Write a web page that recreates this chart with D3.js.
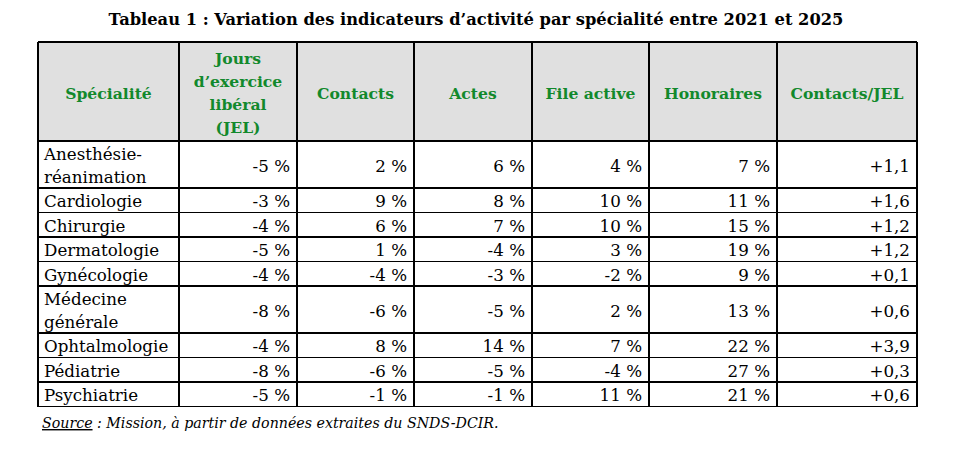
<!DOCTYPE html>
<html lang="fr">
<head>
<meta charset="utf-8">
<script src="https://cdn.jsdelivr.net/npm/d3@7"></script>
<style>
  html, body { margin: 0; padding: 0; background: #fff; }
  svg { display: block; font-family: "DejaVu Serif", serif; }
</style>
</head>
<body>
<div id="chart"></div>
<script>
// Data (variation 2021-2025)
const title = "Tableau 1 : Variation des indicateurs d\u2019activit\u00e9 par sp\u00e9cialit\u00e9 entre 2021 et 2025";
const headers = ["Sp\u00e9cialit\u00e9", "Jours\nd\u2019exercice\nlib\u00e9ral\n(JEL)", "Contacts", "Actes", "File active", "Honoraires", "Contacts/JEL"];
const specialites = ["Anesth\u00e9sie-\nr\u00e9animation", "Cardiologie", "Chirurgie", "Dermatologie", "Gyn\u00e9cologie", "M\u00e9decine\ng\u00e9n\u00e9rale", "Ophtalmologie", "P\u00e9diatrie", "Psychiatrie"];
const jel        = [-5, -3, -4, -5, -4, -8, -4, -8, -5];
const contacts   = [2, 9, 6, 1, -4, -6, 8, -6, -1];
const actes      = [6, 8, 7, -4, -3, -5, 14, -5, -1];
const fileActive = [4, 10, 10, 3, -2, 2, 7, -4, 11];
const honoraires = [7, 11, 15, 19, 9, 13, 22, 27, 21];
const contactsParJel = [1.1, 1.6, 1.2, 1.2, 0.1, 0.6, 3.9, 0.3, 0.6];
const sourceLabel = "Source";
const sourceText = " : Mission, \u00e0 partir de donn\u00e9es extraites du SNDS-DCIR.";

const W = 960, H = 453;
const tLeft = 38, tTop = 42;
const colWidths = [141, 118, 117, 118, 117, 128, 140];
const lineH = 22.5, headerH = 99, pad = 6;

const fr = d3.formatLocale({decimal: ",", thousands: "\u00a0", grouping: [3], currency: ["", " \u20ac"], minus: "-"});
const pct = v => fr.format("d")(v) + " %";
const ratio = fr.format("+.1f");

const series = [jel, contacts, actes, fileActive, honoraires];
const rows = specialites.map((s, i) => [s, ...series.map(a => pct(a[i])), ratio(contactsParJel[i])]);

// column edges through an ordinal scale
const colEdges = Array.from(d3.cumsum([tLeft, ...colWidths]));
const x = d3.scaleOrdinal(d3.range(headers.length), colEdges);
const tRight = colEdges[colEdges.length - 1];

// row heights from number of text lines
const rowH = rows.map(r => 2 + lineH * r[0].split("\n").length);
const rowTops = Array.from(d3.cumsum([tTop + headerH, ...rowH]));
const y = d3.scaleOrdinal(d3.range(rows.length), rowTops);
const tBottom = rowTops[rowTops.length - 1];

const svg = d3.select("#chart").append("svg")
  .attr("width", W).attr("height", H)
  .attr("viewBox", [0, 0, W, H]);

svg.append("rect").attr("width", W).attr("height", H).attr("fill", "#fff");

svg.append("text")
  .attr("x", 476).attr("y", 25)
  .attr("text-anchor", "middle")
  .attr("font-weight", "bold").attr("font-size", "16.3px").attr("fill", "#000")
  .text(title);

// header background
svg.append("rect")
  .attr("x", tLeft).attr("y", tTop)
  .attr("width", tRight - tLeft).attr("height", headerH)
  .attr("fill", "#e0e0e0");

// header labels
const hdr = svg.append("g").selectAll("text").data(headers).join("text")
  .attr("text-anchor", "middle")
  .attr("font-weight", "bold").attr("font-size", "15.6px").attr("fill", "#12892c");
hdr.each(function(d, i) {
  const lines = d.split("\n");
  const cx = x(i) + colWidths[i] / 2;
  const y0 = tTop + headerH / 2 - (lines.length - 1) * 23 / 2 + 7;
  d3.select(this).selectAll("tspan").data(lines).join("tspan")
    .attr("x", cx).attr("y", (l, j) => y0 + j * 23).text(l => l);
});

// body cells
const body = svg.append("g").attr("font-size", "16.7px").attr("fill", "#000");
rows.forEach((r, i) => {
  const yc = y(i) + rowH[i] / 2;
  r.forEach((cell, j) => {
    const lines = cell.split("\n");
    const t = body.append("text")
      .attr("text-anchor", j === 0 ? "start" : "end");
    const tx = j === 0 ? x(j) + pad : x(j) + colWidths[j] - pad - 1;
    const y0 = yc - (lines.length - 1) * lineH / 2 + 7;
    t.selectAll("tspan").data(lines).join("tspan")
      .attr("x", tx).attr("y", (l, k) => y0 + k * lineH).text(l => l);
  });
});

// grid lines
const grid = svg.append("g").attr("stroke", "#000").attr("stroke-width", 1.3).attr("shape-rendering", "crispEdges");
grid.selectAll(".h").data([tTop, ...rowTops]).join("line")
  .attr("x1", tLeft).attr("x2", tRight)
  .attr("y1", d => d).attr("y2", d => d);
grid.selectAll(".v").data(colEdges).join("line")
  .attr("x1", d => d).attr("x2", d => d)
  .attr("y1", tTop).attr("y2", tBottom);

// source note
const src = svg.append("text")
  .attr("x", 42).attr("y", 428)
  .attr("font-style", "italic").attr("font-size", "14.2px").attr("fill", "#000");
src.append("tspan").attr("text-decoration", "underline").text(sourceLabel);
src.append("tspan").text(sourceText);
</script>
</body>
</html>
